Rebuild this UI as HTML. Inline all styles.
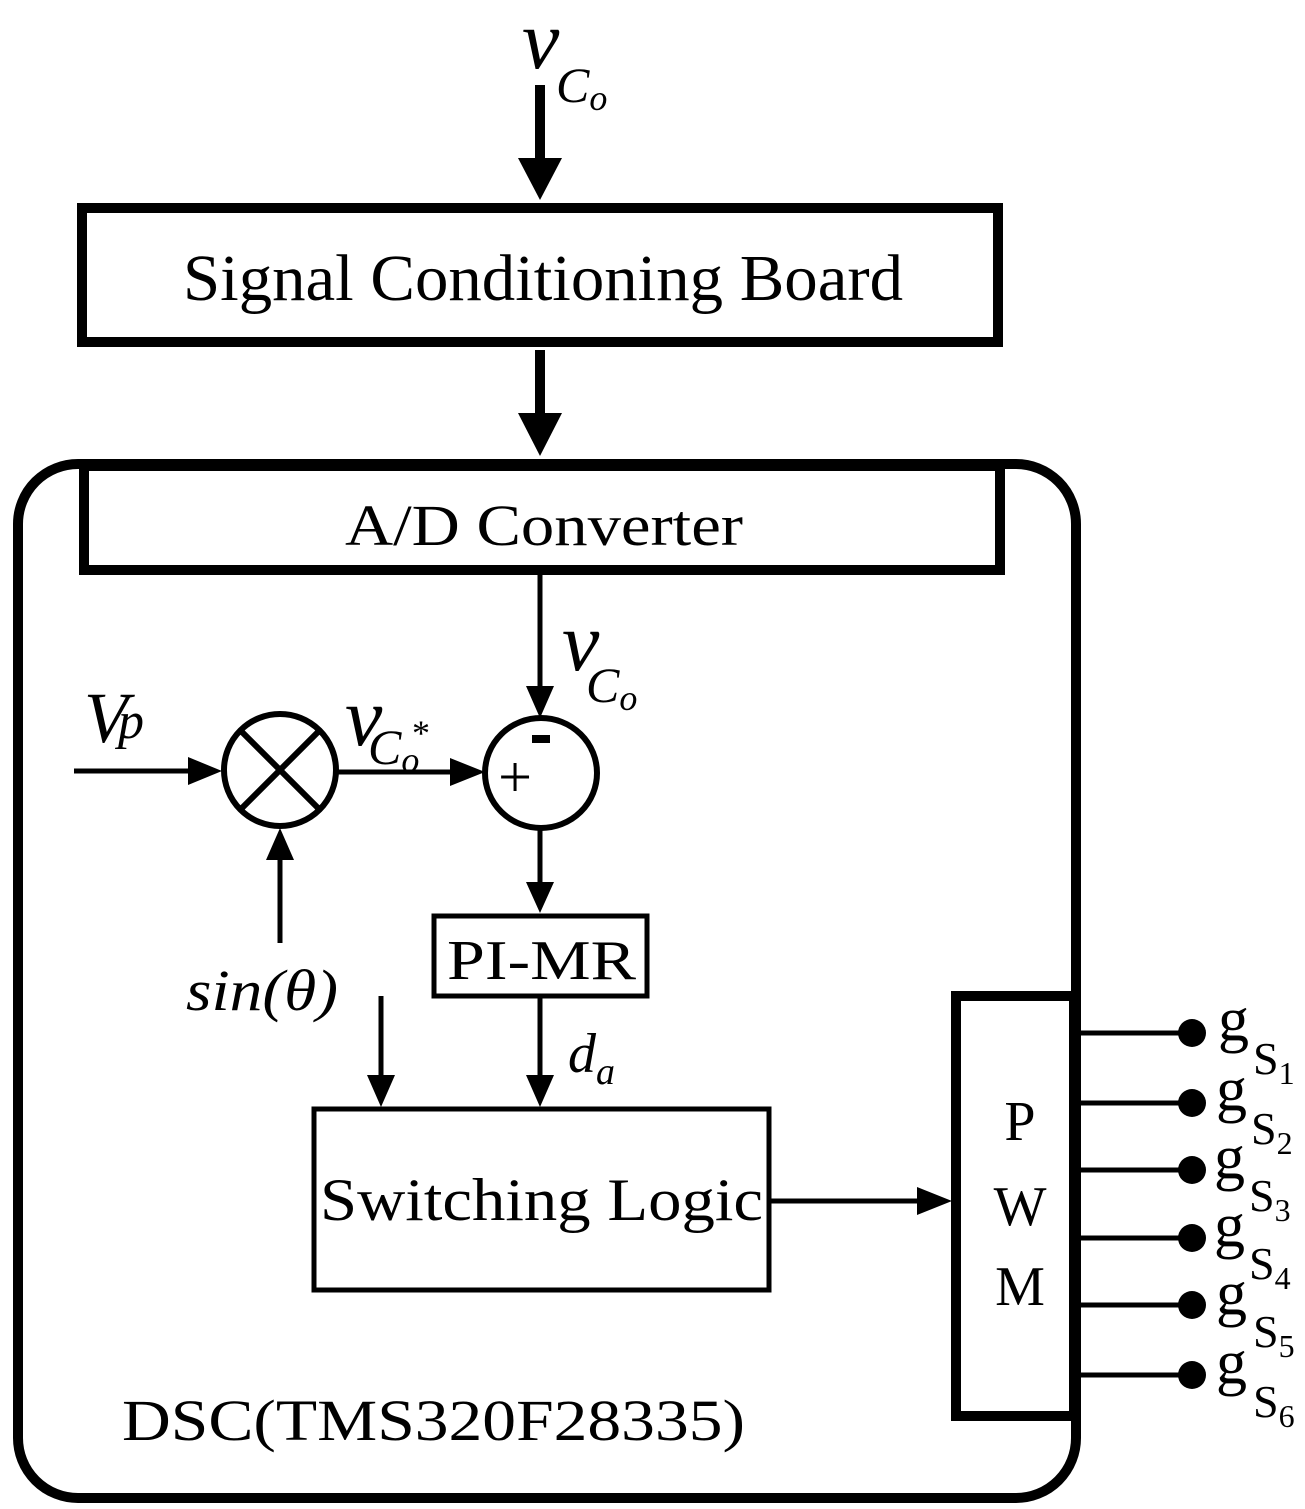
<!DOCTYPE html>
<html><head><style>
html,body{margin:0;padding:0;background:#fff;}
svg{display:block;}
text{font-family:"Liberation Serif",serif;fill:#000;}
</style></head><body>
<svg width="1305" height="1509" viewBox="0 0 1305 1509" xmlns="http://www.w3.org/2000/svg">
<rect x="18" y="464" width="1058" height="1034" rx="60" ry="60" fill="none" stroke="#000" stroke-width="10"/>
<rect x="82" y="208" width="916" height="134" fill="none" stroke="#000" stroke-width="10"/>
<text x="183" y="300" font-size="66" textLength="720" lengthAdjust="spacingAndGlyphs">Signal Conditioning Board</text>
<rect x="84" y="466" width="916" height="104" fill="none" stroke="#000" stroke-width="10"/>
<text x="345" y="545" font-size="58" textLength="398" lengthAdjust="spacingAndGlyphs">A/D Converter</text>
<line x1="540" y1="85" x2="540" y2="160" stroke="#000" stroke-width="10"/>
<polygon points="518,158 562,158 540,200" fill="#000"/>
<text x="522" y="68" font-size="84" font-style="italic">v</text>
<text x="556" y="102" font-size="50" font-style="italic">C<tspan font-size="36" dy="8">o</tspan></text>
<line x1="540" y1="350" x2="540" y2="415" stroke="#000" stroke-width="10"/>
<polygon points="518,413 562,413 540,456" fill="#000"/>
<line x1="540" y1="575" x2="540" y2="690" stroke="#000" stroke-width="5"/>
<polygon points="526,686 554,686 540,718" fill="#000"/>
<text x="562" y="670" font-size="84" font-style="italic">v</text>
<text x="586" y="702" font-size="50" font-style="italic">C<tspan font-size="36" dy="8">o</tspan></text>
<ellipse cx="541" cy="773" rx="56" ry="55" fill="none" stroke="#000" stroke-width="6"/>
<text x="515" y="797" font-size="60" text-anchor="middle">+</text>
<rect x="532" y="735" width="18" height="8" fill="#000"/>
<ellipse cx="280" cy="770" rx="56" ry="56" fill="none" stroke="#000" stroke-width="6"/>
<line x1="242" y1="732" x2="318" y2="808" stroke="#000" stroke-width="6"/>
<line x1="318" y1="732" x2="242" y2="808" stroke="#000" stroke-width="6"/>
<line x1="74" y1="771" x2="195" y2="771" stroke="#000" stroke-width="5"/>
<polygon points="188,757 188,785 222,771" fill="#000"/>
<text x="84" y="742" font-size="72" font-style="italic">V</text>
<text x="118" y="738" font-size="52" font-style="italic">p</text>
<line x1="338" y1="772" x2="455" y2="772" stroke="#000" stroke-width="5"/>
<polygon points="450,758 450,786 485,772" fill="#000"/>
<text x="345" y="745" font-size="84" font-style="italic">v</text>
<text x="368" y="764" font-size="50" font-style="italic">C<tspan font-size="36" dy="8">o</tspan></text>
<text x="412" y="745" font-size="36">*</text>
<line x1="280" y1="943" x2="280" y2="855" stroke="#000" stroke-width="5"/>
<polygon points="266,860 294,860 280,828" fill="#000"/>
<text x="186" y="1010" font-size="58" font-style="italic" textLength="152" lengthAdjust="spacingAndGlyphs">sin(θ)</text>
<line x1="540" y1="830" x2="540" y2="885" stroke="#000" stroke-width="5"/>
<polygon points="526,882 554,882 540,913" fill="#000"/>
<rect x="434" y="916" width="213" height="80" fill="none" stroke="#000" stroke-width="5"/>
<text x="447" y="979" font-size="56" textLength="189" lengthAdjust="spacingAndGlyphs">PI-MR</text>
<line x1="540" y1="998" x2="540" y2="1078" stroke="#000" stroke-width="5"/>
<polygon points="526,1075 554,1075 540,1107" fill="#000"/>
<text x="568" y="1072" font-size="56" font-style="italic">d</text>
<text x="596" y="1084" font-size="38" font-style="italic">a</text>
<line x1="381" y1="996" x2="381" y2="1078" stroke="#000" stroke-width="5"/>
<polygon points="367,1075 395,1075 381,1107" fill="#000"/>
<rect x="314" y="1109" width="455" height="181" fill="none" stroke="#000" stroke-width="5"/>
<text x="320" y="1220" font-size="60" textLength="443" lengthAdjust="spacingAndGlyphs">Switching Logic</text>
<line x1="770" y1="1201" x2="922" y2="1201" stroke="#000" stroke-width="5"/>
<polygon points="917,1187 917,1215 952,1201" fill="#000"/>
<rect x="956" y="996" width="118" height="420" fill="none" stroke="#000" stroke-width="10"/>
<text x="1020" y="1140" font-size="56" text-anchor="middle">P</text>
<text x="1020" y="1225" font-size="56" text-anchor="middle">W</text>
<text x="1020" y="1305" font-size="56" text-anchor="middle">M</text>
<g stroke="#000" stroke-width="5">
<line x1="1076" y1="1033" x2="1190" y2="1033"/>
<line x1="1076" y1="1103" x2="1190" y2="1103"/>
<line x1="1076" y1="1170" x2="1190" y2="1170"/>
<line x1="1076" y1="1238" x2="1190" y2="1238"/>
<line x1="1076" y1="1305" x2="1190" y2="1305"/>
<line x1="1076" y1="1375" x2="1190" y2="1375"/>
</g>
<g fill="#000">
<circle cx="1192" cy="1033" r="14"/><circle cx="1192" cy="1103" r="14"/>
<circle cx="1192" cy="1170" r="14"/><circle cx="1192" cy="1238" r="14"/>
<circle cx="1192" cy="1305" r="14"/><circle cx="1192" cy="1375" r="14"/>
</g>
<g font-size="62">
<text x="1218" y="1040">g</text><text x="1216" y="1110">g</text><text x="1214" y="1178">g</text>
<text x="1214" y="1246">g</text><text x="1216" y="1314">g</text><text x="1216" y="1383">g</text>
</g>
<g font-size="46">
<text x="1253" y="1074">S<tspan font-size="32" dy="10">1</tspan></text>
<text x="1251" y="1144">S<tspan font-size="32" dy="10">2</tspan></text>
<text x="1249" y="1211">S<tspan font-size="32" dy="10">3</tspan></text>
<text x="1249" y="1279">S<tspan font-size="32" dy="10">4</tspan></text>
<text x="1253" y="1347">S<tspan font-size="32" dy="10">5</tspan></text>
<text x="1253" y="1417">S<tspan font-size="32" dy="10">6</tspan></text>
</g>
<text x="122" y="1440" font-size="58" textLength="623" lengthAdjust="spacingAndGlyphs">DSC(TMS320F28335)</text>
</svg>
</body></html>
